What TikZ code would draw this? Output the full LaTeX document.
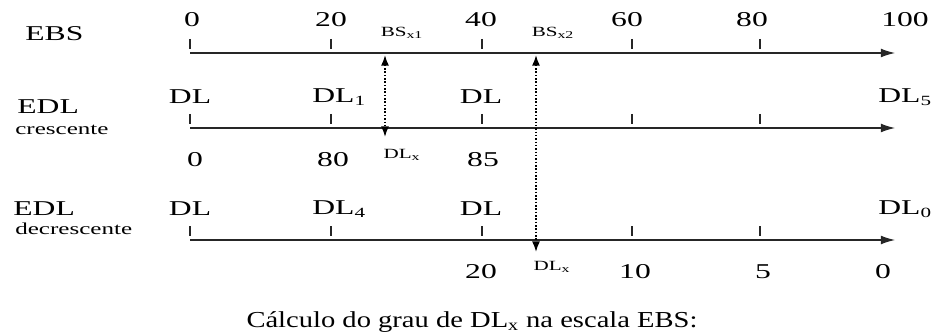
\documentclass[tikz,border=0pt]{standalone}
\usepackage{fontspec}
\setmainfont[FakeStretch=1.5]{Liberation Serif}
\newfontfamily\capfont[FakeStretch=1.25]{Liberation Serif}
\usetikzlibrary{arrows.meta}

\begin{document}
\begin{tikzpicture}[x=0.2mm, y=-0.2mm,
  big/.style={font=\fontsize{12}{14}\selectfont, inner sep=0pt},
  small/.style={font=\fontsize{8}{9}\selectfont, inner sep=0pt},
  side/.style={font=\fontsize{9.5}{11}\selectfont, inner sep=0pt, anchor=west},
  axis/.style={-{Latex[length=8pt,width=5pt]}, line width=0.7pt, black!85},
  tick/.style={line width=0.7pt, black!85},
  proj/.style={{Latex[length=6pt,width=4.5pt]}-{Latex[length=6pt,width=4.5pt]}, densely dotted, line width=0.9pt}]
  \useasboundingbox (0,0) rectangle (945,334);

  % escala EBS
  \node[big, anchor=west] (ebs) at (25,34) {EBS};
  \coordinate (ebsL) at (190,53);
  \coordinate (ebsR) at (895,53);
  \draw[axis] (ebsL) -- (ebsR);
  \foreach \x in {190,331,482,632,760} \draw[tick] (\x,39) -- (\x,49);
  \foreach \x/\v/\n in {192/0/e0, 331/20/e20, 481/40/e40, 627/60/e60, 752/80/e80, 905/100/e100}
    \node[big] (\n) at (\x,20) {\v};

  % escala EDL crescente
  \node[big, anchor=west] (edlA) at (17,107) {EDL};
  \node[side] (cres) at (15,130) {crescente};
  \coordinate (crL) at (190,128);
  \coordinate (crR) at (895,128);
  \draw[axis] (crL) -- (crR);
  \foreach \x in {190,331,482,632,760} \draw[tick] (\x,114) -- (\x,124);
  \node[big] (c0) at (190,97) {DL};
  \node[big, anchor=west] (c1) at (312,97) {DL\textsubscript{1}};
  \node[big] (c2) at (481,97) {DL};
  \node[big, anchor=west] (c5) at (878,97) {DL\textsubscript{5}};
  \foreach \x/\v/\n in {195/0/v0, 333/80/v80, 483/85/v85}
    \node[big] (\n) at (\x,160) {\v};

  % escala EDL decrescente
  \node[big, anchor=west] (edlB) at (13,209) {EDL};
  \node[side] (decr) at (15,229) {decrescente};
  \coordinate (deL) at (190,240);
  \coordinate (deR) at (895,240);
  \draw[axis] (deL) -- (deR);
  \foreach \x in {190,331,482,632,760} \draw[tick] (\x,226) -- (\x,236);
  \node[big] (d0) at (190,209) {DL};
  \node[big, anchor=west] (d4) at (312,209) {DL\textsubscript{4}};
  \node[big] (d2) at (481,209) {DL};
  \node[big, anchor=west] (d5) at (878,209) {DL\textsubscript{0}};
  \foreach \x/\v/\n in {481/20/w20, 635/10/w10, 763/5/w5, 883/0/w0}
    \node[big] (\n) at (\x,272) {\v};

  % projecoes
  \node[small] (bs1) at (402,33) {BS\textsubscript{x1}};
  \node[small] (bs2) at (553,33) {BS\textsubscript{x2}};
  \node[small] (dx1) at (402,155) {DL\textsubscript{x}};
  \node[small] (dx2) at (552,267) {DL\textsubscript{x}};
  \coordinate (p1t) at (385,55);
  \coordinate (p1b) at (385,137);
  \coordinate (p2t) at (536,55);
  \coordinate (p2b) at (536,252);
  \draw[proj] (p1t) -- (p1b);
  \draw[proj] (p2t) -- (p2b);

  \node[font=\capfont\fontsize{13}{15}\selectfont, inner sep=0pt, anchor=base] (calc) at (472,327) {Cálculo do grau de DL\textsubscript{x} na escala EBS:};
\end{tikzpicture}
\end{document}
